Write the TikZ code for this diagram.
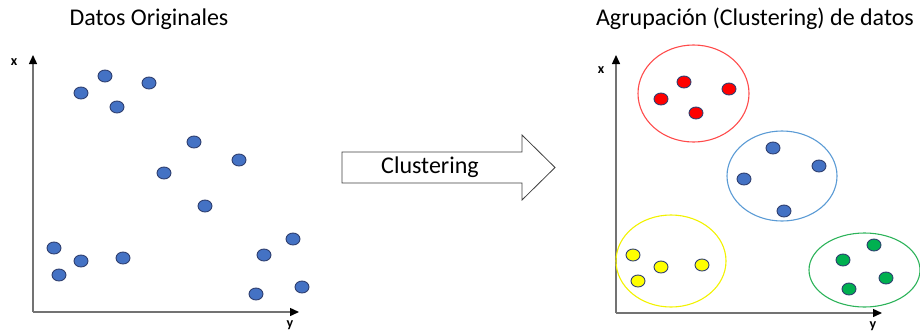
\documentclass[tikz,border=0pt]{standalone}
\usepackage{fontspec}
\setmainfont{Carlito}
\usetikzlibrary{arrows.meta,shapes.geometric}
\definecolor{dotblue}{HTML}{4472C4}
\definecolor{dotedge}{HTML}{2F3F6F}
\definecolor{cred}{HTML}{FF0000}
\definecolor{cyellow}{HTML}{FFFF00}
\definecolor{cgreen}{HTML}{00B050}
\definecolor{ered}{HTML}{FF4B4B}
\definecolor{eblue}{HTML}{5B9BD5}
\definecolor{eyellow}{HTML}{F2F200}
\definecolor{egreen}{HTML}{2DB35A}
\tikzset{
  dot/.style={ellipse, draw=dotedge, line width=0.9pt, minimum width=14pt, minimum height=12pt, inner sep=0pt},
  axis/.style={line width=1.4pt, draw=black!55, -{Triangle[length=9pt,width=8pt,fill=black,color=black]}},
  axlabel/.style={font=\bfseries\fontsize{14}{16}\selectfont},
  title/.style={font=\fontsize{24}{28}\selectfont},
  grp/.style={ellipse, line width=1.1pt, inner sep=0pt}
}
\begin{document}
\begin{tikzpicture}[x=1pt,y=-1pt]
\useasboundingbox (0,0) rectangle (920,335);
% Left panel
\node[title] (t1) at (149,19) {Datos Originales};
\coordinate (o1) at (33,312);
\coordinate (ya1) at (33,55);
\coordinate (xa1) at (299,312);
\draw[axis] (o1) -- (ya1);
\draw[axis] (o1) -- (xa1);
\node[axlabel] (lx1) at (14,62) {x};
\node[axlabel] (ly1) at (290,325) {y};
\foreach \i/\p in {1/{81,93},2/{105,76},3/{117,107},4/{149,83},5/{194,142},6/{239,160},7/{164,173},8/{205,206},9/{54,248},10/{81,261},11/{59,275},12/{123,258},13/{293,239},14/{264,255},15/{302,287},16/{256,294}}
  \node[dot, fill=dotblue] (d\i) at (\p) {};
% Arrow
\draw[draw=black!75, line width=0.8pt, fill=white, line join=miter]
  (342,152) -- (522,152) -- (522,135) -- (555,167.5) -- (522,200) -- (522,183) -- (342,183) -- cycle;
\node[title] (lab) at (430,167) {Clustering};
% Right panel
\node[title] (t2) at (755,19) {Agrupación (Clustering) de datos};
\coordinate (o2) at (616,313);
\coordinate (ya2) at (616,55);
\coordinate (xa2) at (882,313);
\draw[axis] (o2) -- (ya2);
\draw[axis] (o2) -- (xa2);
\node[axlabel] (lx2) at (601,70) {x};
\node[axlabel] (ly2) at (873,326) {y};
% cluster ellipses
\node[grp, draw=ered, minimum width=111pt, minimum height=97pt] (gr) at (693.5,93.5) {};
\node[grp, draw=eblue, minimum width=110pt, minimum height=90pt] (gb) at (782,176) {};
\node[grp, draw=eyellow, minimum width=110pt, minimum height=92pt] (gy) at (671,261) {};
\node[grp, draw=egreen, minimum width=111pt, minimum height=74pt] (gg) at (864.5,270) {};
% cluster dots
\foreach \i/\p in {1/{661,99},2/{684,82},3/{696,113},4/{729,89}}
  \node[dot, fill=cred] (r\i) at (\p) {};
\foreach \i/\p in {1/{773,148},2/{819,166},3/{744,179},4/{784,211}}
  \node[dot, fill=dotblue] (b\i) at (\p) {};
\foreach \i/\p in {1/{633,255},2/{661,267},3/{702,265},4/{638,281}}
  \node[dot, fill=cyellow] (y\i) at (\p) {};
\foreach \i/\p in {1/{874,245},2/{843,260},3/{886,278},4/{849,289}}
  \node[dot, fill=cgreen] (g\i) at (\p) {};
\end{tikzpicture}
\end{document}
